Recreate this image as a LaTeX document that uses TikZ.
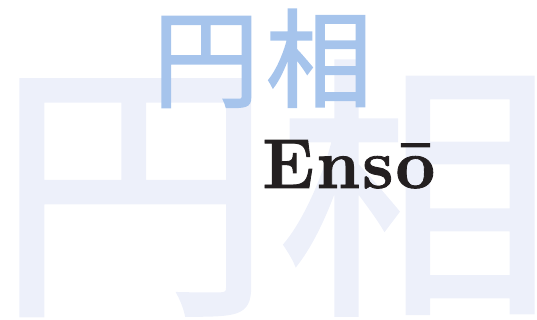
\documentclass[tikz,border=0pt]{standalone}
\usepackage{fontspec}
\newfontfamily\cjkfont{Noto Sans CJK JP}[FakeBold=1.5]
\newfontfamily\titlefont{Latin Modern Roman}[FakeBold=1.2, LetterSpace=3]
\usepackage{tikz}
\usepackage{color}
\definecolor{palecjk}{HTML}{EDF0FA}
\definecolor{bluecjk}{HTML}{A6C4EC}
\definecolor{inkblack}{HTML}{231F20}

\begin{document}
\begin{tikzpicture}[bigchar/.style={anchor=base west, inner sep=0pt, text=palecjk, font=\cjkfont\fontsize{196}{196}\selectfont},
    smallchar/.style={anchor=base west, inner sep=0pt, text=bluecjk, font=\cjkfont\fontsize{76}{76}\selectfont}]

    \useasboundingbox (0,0) rectangle (13.425,8.0);
    \clip (0,0) rectangle (13.425,8.0);

    % background characters
    \node[bigchar](bigen) at (-0.09, 0.675) {円};
    \node[bigchar](bigso) at (6.93, 0.675) {相};

    \node[smallchar](smallen) at (3.81, 5.525) {円};
    \node[smallchar](smallso) at (6.635, 5.525) {相};

    % title
    \node[style={anchor=base west, inner sep=0pt, text=inkblack, font=\titlefont\bfseries\fontsize{50}{50}\selectfont}](enso) at (6.55, 3.3) {Ensō};

\end{tikzpicture}
\end{document}
